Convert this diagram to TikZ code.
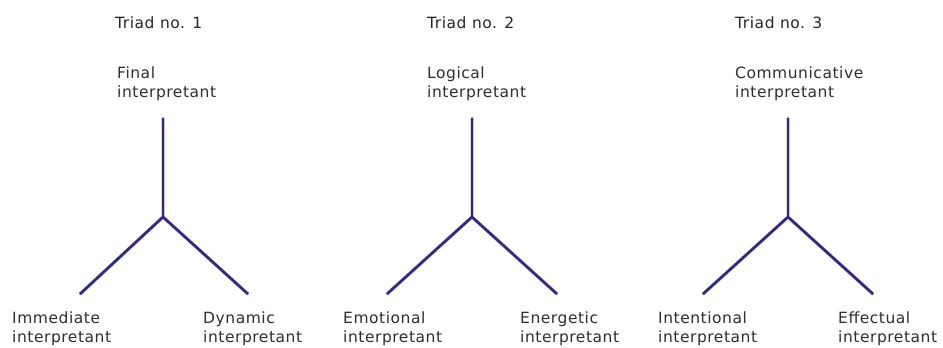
\documentclass[tikz,border=0pt]{standalone}
\usepackage{fontspec}
\setmainfont{DejaVu Sans}[LetterSpace=3.5]
\begin{document}
\begin{tikzpicture}[x=1pt,y=-1pt,
  lbl/.style={anchor=north west,inner sep=0pt,align=left,text=black!82,font=\fontsize{15.5}{19}\selectfont},
  ttl/.style={anchor=base west,inner sep=0pt,text=black!85,font=\fontsize{15.5}{19}\selectfont},
  leg/.style={line width=2.6pt,draw={rgb,255:red,46;green,42;blue,128},line cap=butt},
  shd/.style={line width=3.5pt,draw=black!22,line cap=round}]
\useasboundingbox (0,0) rectangle (943,348);
% titles
\node[ttl] (t1) at (115,28) {Triad no. 1};
\node[ttl] (t2) at (427,28) {Triad no. 2};
\node[ttl] (t3) at (735,28) {Triad no. 3};
% top labels
\node[lbl] (f1) at (117,67) {Final\\interpretant};
\node[lbl] (f2) at (427,67) {Logical\\interpretant};
\node[lbl] (f3) at (735,67) {Communicative\\interpretant};
% bottom labels
\node[lbl] (a1) at (12,312) {Immediate\\interpretant};
\node[lbl] (b1) at (203,312) {Dynamic\\interpretant};
\node[lbl] (a2) at (343,312) {Emotional\\interpretant};
\node[lbl] (b2) at (520,312) {Energetic\\interpretant};
\node[lbl] (a3) at (658,312) {Intentional\\interpretant};
\node[lbl] (b3) at (838,312) {Effectual\\interpretant};
% triad geometry
\foreach \i/\cx/\lx/\rx in {1/163/80/248, 2/472/387/557, 3/788/703/873}{
  \coordinate (top\i) at (\cx,118);
  \coordinate (j\i) at (\cx,217);
  \coordinate (l\i) at (\lx,294);
  \coordinate (r\i) at (\rx,294);
}
\foreach \i in {1,2,3}{
  \begin{scope}[shift={(2.5,2.5)}]
    \draw[shd] (top\i) -- (j\i) -- (l\i);
    \draw[shd] (j\i) -- (r\i);
  \end{scope}
}
\foreach \i in {1,2,3}{
  \draw[leg] (top\i) -- (j\i);
  \draw[leg] (j\i) -- (l\i);
  \draw[leg] (j\i) -- (r\i);
}
\end{tikzpicture}
\end{document}
